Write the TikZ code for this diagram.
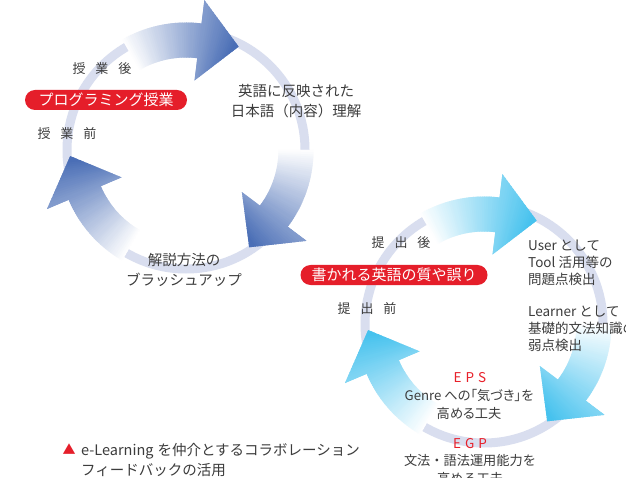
\documentclass[tikz,border=0pt]{standalone}
\usepackage{fontspec}
\setmainfont{Noto Sans CJK JP}
\definecolor{txt}{HTML}{3C3C3C}
\definecolor{blueA}{HTML}{4A6EB6}
\definecolor{cyanA}{HTML}{46C2EE}
\definecolor{ringA}{HTML}{D9DEEF}
\definecolor{pillred}{HTML}{E51E2A}
\definecolor{lblred}{HTML}{E8202A}
\tikzset{
  lbl/.style={text=txt, font=\fontsize{14.5}{20}\selectfont, align=center, inner sep=0pt},
  sidelbl/.style={text=txt, font=\fontsize{13.5}{17}\selectfont, align=left, inner sep=0pt, anchor=west},
  smalllbl/.style={text=txt, font=\fontsize{13.2}{18}\selectfont, align=center, inner sep=0pt},
  phase/.style={text=txt, font=\fontsize{13}{16}\selectfont, inner sep=0pt},
  pill/.style={fill=pillred, text=white, rounded corners=10pt, minimum height=20pt, inner sep=0pt, font=\fontsize{15}{18}\selectfont},
  acro/.style={text=lblred, font=\fontsize{13.5}{16}\selectfont, inner sep=0pt},
  ringline/.style={draw=ringA, line width=9pt},
}
\newcommand{\cyclearrow}[3]{%
  \begin{scope}[shift={#1}]
    \begin{scope}
      \clip (#2:127.5pt) arc[start angle=#2, end angle=#2-37, radius=127.5pt]
        -- (#2-37:151pt) -- (#2-57:116pt) -- (#2-37:70pt) -- (#2-37:92.5pt)
        arc[start angle=#2-37, end angle=#2, radius=92.5pt] -- cycle;
      \foreach \i in {0,...,60} {
        \pgfmathsetmacro\aa{#2+1-\i}
        \pgfmathsetmacro\ab{#2-0.6-\i}
        \pgfmathtruncatemacro\pp{min(100,\i*100/55)}
        \fill[#3!\pp!white] (0pt,0pt) -- (\aa:170pt) arc[start angle=\aa, end angle=\ab, radius=170pt] -- cycle;
      }
    \end{scope}
  \end{scope}
}
\begin{document}
\begin{tikzpicture}[x=1pt,y=1pt]
\useasboundingbox (0,0) rectangle (626,477);
\clip (0,0) rectangle (626,477);
\fill[white] (0,0) rectangle (626,477);

% centres
\coordinate (c1) at (186,327);
\coordinate (c2) at (484,153);

% rings
\draw[ringline] (c1) circle[radius=119pt];
\draw[ringline] (c2) circle[radius=119pt];

% arrows
\cyclearrow{(c1)}{120}{blueA}
\cyclearrow{(c1)}{0}{blueA}
\cyclearrow{(c1)}{240}{blueA}
\cyclearrow{(c2)}{120}{cyanA}
\cyclearrow{(c2)}{0}{cyanA}
\cyclearrow{(c2)}{240}{cyanA}

% cycle 1 labels
\node[phase] (after1) at (102,408) {授\kern10pt業\kern10pt後};
\node[pill, minimum width=162pt] (pill1) at (106,377) {プログラミング授業};
\node[phase] (before1) at (67,343) {授\kern10pt業\kern10pt前};
\node[lbl] (jp) at (296,376) {英語に反映された\\日本語（内容）理解};
\node[lbl] (brush) at (184,207) {解説方法の\\ブラッシュアップ};

% cycle 2 labels
\node[phase] (after2) at (401,234) {提\kern10pt出\kern10pt後};
\node[pill, minimum width=187pt] (pill2) at (394,202) {書かれる英語の質や誤り};
\node[phase] (before2) at (367,168) {提\kern10pt出\kern10pt前};
\node[sidelbl] (user) at (528,214) {User\kern3pt として\\Tool 活用等の\\問題点検出};
\node[sidelbl] (learner) at (528,148) {Learner\kern3pt として\\基礎的文法知識の\\弱点検出};
\node[acro] (eps) at (470,99) {E\kern4pt P\kern4pt S};
\node[smalllbl] (genre) at (469,73) {\addfontfeatures{RawFeature=+palt}Genre への「気づき」を\\\addfontfeatures{RawFeature=+palt}高める工夫};
\node[acro] (egp) at (470,33) {E\kern4pt G\kern4pt P};
\node[smalllbl] (gram) at (470,8) {文法・語法運用能力を\\高める工夫};

% note
\node[text=pillred, font=\fontsize{13}{14}\selectfont, inner sep=0pt] (tri) at (69,28) {▲};
\node[text=txt, font=\fontsize{14.5}{20}\selectfont, align=left, inner sep=0pt, anchor=west] (note) at (81,17) {e-Learning\kern4pt を仲介とするコラボレーション\\フィードバックの活用};
\end{tikzpicture}
\end{document}
